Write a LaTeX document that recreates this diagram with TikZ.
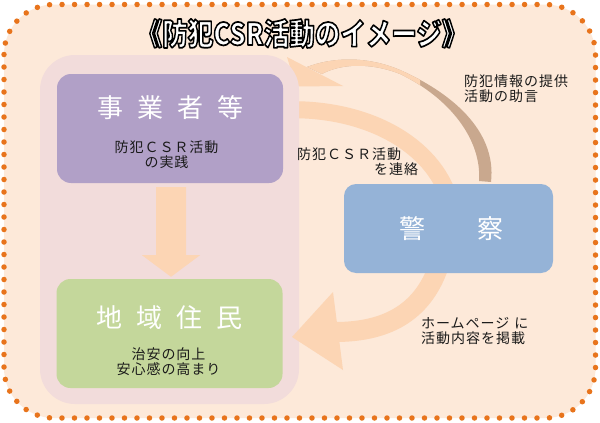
\documentclass[tikz,border=0pt]{standalone}
\usepackage{fontspec}
\usepackage{graphicx}
\newfontfamily\jp{Noto Sans CJK JP}
\newfontfamily\jpls{Noto Sans CJK JP}[LetterSpace=7]
\usetikzlibrary{calc}
\definecolor{bgpeach}{HTML}{FDE9D9}
\definecolor{dotorange}{HTML}{E8741C}
\definecolor{panelpink}{HTML}{F2DCDB}
\definecolor{bizpurple}{HTML}{B1A0C7}
\definecolor{resgreen}{HTML}{C4D79B}
\definecolor{polblue}{HTML}{95B3D7}
\definecolor{arrowpeach}{HTML}{FCD5B4}
\definecolor{arrowtan}{HTML}{C9A88E}
\definecolor{textdark}{HTML}{1A1A1A}
\newcommand\ttltext{\scalebox{1.02}[1.22]{《防犯CSR活動のイメージ》}}
\newcommand\outlineon{\special{pdf:literal direct 2 Tr 1.4 w 0 0 0 RG 1 j}}
\newcommand\outlineoff{\special{pdf:literal direct 0 Tr}}
\begin{document}
\begin{tikzpicture}[x=1pt,y=-1pt,
  box/.style={rounded corners=14pt, inner sep=0, minimum width=226pt, minimum height=109pt},
  boxtitle/.style={font=\jp\fontsize{26}{30}\selectfont, text=white, inner sep=0},
  smalltext/.style={font=\jpls\fontsize{14}{15}\selectfont, text=textdark, inner sep=0, align=center},
  labeltext/.style={font=\jpls\fontsize{14}{15}\selectfont, text=textdark, inner sep=0, align=left},
  titlefont/.style={font=\jp\bfseries\fontsize{25}{28}\selectfont, inner sep=0},
]
\useasboundingbox (0,0) rectangle (600,423);
\fill[white] (0,0) rectangle (600,423);
% background with dotted border
\draw[dotorange, fill=bgpeach, line width=5.5pt, line cap=round,
      dash pattern=on 0pt off 12.5pt, rounded corners=50pt] (4,4.5) rectangle (595.5,418);

% upper peach band (behind panel and police box)
\draw[arrowpeach, line width=17pt] (280,110) .. controls (360,106) and (428,140) .. (448,195);

% upper curved arrow: crescent body
\fill[arrowtan] (307,67) .. controls (330,58) and (365,55) .. (400,70)
  .. controls (450,92) and (497,130) .. (491,182) -- (479,181)
  .. controls (482,140) and (450,98) .. (400,74)
  .. controls (370,62) and (340,64) .. (322,74) -- cycle;
\begin{scope}
\clip (280,40) rectangle (420,120);
\fill[arrowpeach] (307,67) .. controls (330,58) and (365,55) .. (400,70)
  .. controls (450,92) and (497,130) .. (491,182) -- (479,181)
  .. controls (482,140) and (450,98) .. (400,74)
  .. controls (370,62) and (340,64) .. (322,74) -- cycle;
\end{scope}
\fill[arrowpeach] (287,57) -- (343,86) -- (296,86.5) -- cycle;

% panel
\node[fill=panelpink, rounded corners=35pt, inner sep=0,
      minimum width=259pt, minimum height=349pt] (panel) at (169.5,229.5) {};

% boxes
\node[box, fill=bizpurple] (biz) at (170,128.5) {};
\node[box, fill=resgreen] (res) at (169.5,333.5) {};

% down arrow from biz to res
\fill[arrowpeach] ($(biz.south)+(-14,4)$) -- ($(biz.south)+(16,4)$) -- ($(biz.south)+(16,72)$)
  -- ($(biz.south)+(30,72)$) -- ($(res.north)+(1.5,-2)$) -- ($(biz.south)+(-28,72)$)
  -- ($(biz.south)+(-14,72)$) -- cycle;

% lower curved arrow (police -> residents)
\draw[arrowpeach, line width=20pt] (440,262) .. controls (425,310) and (390,332) .. (335,332);
\fill[arrowpeach] (292,337) -- (333,292) -- (343,370) -- cycle;

% police box
\node[box, fill=polblue, minimum width=209pt, minimum height=89pt, rounded corners=12pt] (pol) at (448.5,228.5) {};

% title, white with black outline
\node[titlefont, text=white] (title) at (302,33.5) {\outlineon\ttltext\outlineoff};

% box texts
\node[boxtitle] (bizT) at (170.5,108) {事\hspace{14pt}業\hspace{14pt}者\hspace{14pt}等};
\node[smalltext] (bizS) at (166.5,155) {防犯ＣＳＲ活動\\の実践};
\node[boxtitle] (resT) at (169.5,317.5) {地\hspace{14pt}域\hspace{14pt}住\hspace{14pt}民};
\node[smalltext] (resS) at (168.5,361.5) {治安の向上\\安心感の高まり};
\node[boxtitle] (polT) at (451,229) {警\hspace{52pt}察};

% labels
\node[labeltext, anchor=west] (lab1) at (464,88.5) {防犯情報の提供\\活動の助言};
\node[labeltext, anchor=west] (lab2a) at (297,154) {防犯ＣＳＲ活動};
\node[labeltext, anchor=west] (lab2b) at (374,169) {を連絡};
\node[labeltext, anchor=west] (lab3) at (421,331.5) {ホームページ\hspace{5pt}に\\活動内容を掲載};
\end{tikzpicture}
\end{document}
